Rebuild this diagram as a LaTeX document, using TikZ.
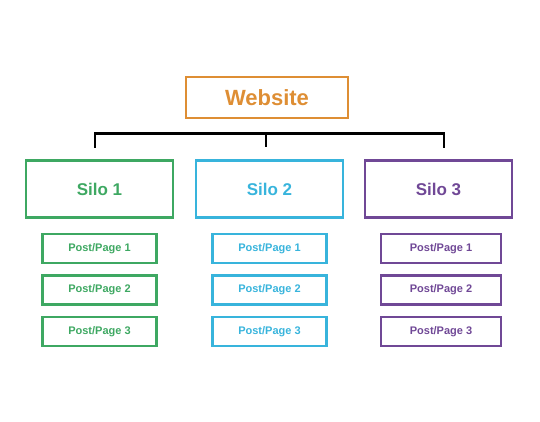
\documentclass[tikz,border=0pt]{standalone}
\usepackage{fontspec}
\setmainfont{Liberation Sans}
\usetikzlibrary{positioning}
\usepackage{xcolor}
\definecolor{siteorange}{RGB}{222,142,52}
\definecolor{silogreen}{RGB}{62,168,98}
\definecolor{silocyan}{RGB}{56,180,220}
\definecolor{silopurple}{RGB}{112,72,150}

\begin{document}
\begin{tikzpicture}[
        x=1pt, y=-1pt,
        node distance=10pt,
        site/.style={draw=siteorange, line width=2.6pt, minimum width=162pt, minimum height=41pt, align=center, text=siteorange, font=\fontsize{22}{24}\selectfont\bfseries},
        silo/.style={draw, line width=2.6pt, minimum width=147pt, minimum height=57pt, align=center, font=\fontsize{17}{19}\selectfont\bfseries},
        post/.style={draw, line width=2.4pt, minimum width=114pt, minimum height=29pt, align=center, font=\fontsize{11}{13}\selectfont\bfseries},
        tree/.style={line width=2.6pt, draw=black}
    ]

    \useasboundingbox (0,0) rectangle (540,422);

    \node[site] (website) at (267,97.5) {Website};

    \node[silo, draw=silogreen, text=silogreen] (silo1) at (99.5,189) {Silo 1};
    \node[silo, draw=silocyan, text=silocyan] (silo2) at (269.5,189) {Silo 2};
    \node[silo, draw=silopurple, text=silopurple] (silo3) at (438.5,189) {Silo 3};

    \node[post, draw=silogreen, text=silogreen, below=14pt of silo1] (post11) {Post/Page 1};
    \node[post, draw=silogreen, text=silogreen, below=of post11] (post12) {Post/Page 2};
    \node[post, draw=silogreen, text=silogreen, below=of post12] (post13) {Post/Page 3};

    \node[post, draw=silocyan, text=silocyan, below=14pt of silo2] (post21) {Post/Page 1};
    \node[post, draw=silocyan, text=silocyan, below=of post21] (post22) {Post/Page 2};
    \node[post, draw=silocyan, text=silocyan, below=of post22] (post23) {Post/Page 3};

    \node[post, draw=silopurple, text=silopurple, minimum width=120pt, below=14pt of silo3, xshift=2.5pt] (post31) {Post/Page 1};
    \node[post, draw=silopurple, text=silopurple, minimum width=120pt, below=of post31] (post32) {Post/Page 2};
    \node[post, draw=silopurple, text=silopurple, minimum width=120pt, below=of post32] (post33) {Post/Page 3};

    % bracket over the silos
    \coordinate (barleft) at (95,133.5);
    \coordinate (barmid) at (266,133.5);
    \coordinate (barright) at (444,133.5);
    \coordinate (tick1) at (95,148);
    \coordinate (tick2) at (266,147);
    \coordinate (tick3) at (444,148);

    \draw[tree] (tick1) -- (barleft) -- (barright) -- (tick3);
    \draw[tree] (barmid) -- (tick2);

\end{tikzpicture}
\end{document}
